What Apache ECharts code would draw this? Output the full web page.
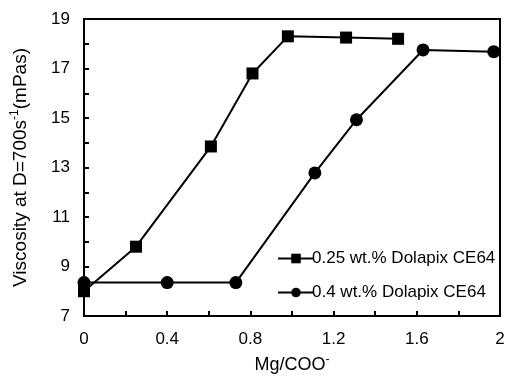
<!DOCTYPE html>
<html>
<head>
<meta charset="utf-8">
<script src="https://cdn.jsdelivr.net/npm/echarts@6/dist/echarts.min.js"></script>
<style>
  html, body { margin: 0; padding: 0; background: #fff; }
  #chart { width: 511px; height: 380px; }
</style>
</head>
<body>
<div id="chart"></div>
<script>
// 0.25 wt.% Dolapix CE64
const ratioA = [0, 0.25, 0.61, 0.81, 0.98, 1.26, 1.51]
const viscA = [8.0, 9.8, 13.85, 16.8, 18.3, 18.25, 18.2]

// 0.4 wt.% Dolapix CE64
const ratioB = [0, 0.4, 0.73, 1.11, 1.31, 1.63, 1.97]
const viscB = [8.35, 8.35, 8.35, 12.78, 14.93, 17.75, 17.68]

const seriesNames = ['0.25 wt.% Dolapix CE64', '0.4 wt.% Dolapix CE64']

const font = 'Liberation Sans, Arial, sans-serif'

const chart = echarts.init(document.getElementById('chart'))

const option = {
  backgroundColor: '#fff',
  animation: false,
  textStyle: { fontFamily: font, color: '#000' },
  grid: {
    left: 84, top: 19, right: 11, bottom: 64,
    show: true, borderColor: '#000', borderWidth: 2
  },
  legend: {
    orient: 'vertical',
    left: 272,
    top: 245,
    itemWidth: 36,
    itemHeight: 12,
    itemGap: 17,
    data: seriesNames,
    textStyle: { fontFamily: font, fontSize: 17, color: '#000', padding: [0, 0, 0, -7] }
  },
  xAxis: {
    type: 'value',
    min: 0, max: 2, interval: 0.2,
    name: '{n|Mg/COO}{s|-}',
    nameLocation: 'middle',
    nameGap: 38,
    nameTextStyle: {
      rich: {
        n: { fontFamily: font, fontSize: 18, color: '#000' },
        s: { fontFamily: font, fontSize: 12, color: '#000', padding: [0, 0, 10, 0] }
      }
    },
    axisLine: { show: true, lineStyle: { color: '#000', width: 2 } },
    axisTick: { inside: true, length: 5, lineStyle: { color: '#000', width: 2 } },
    splitLine: { show: false },
    axisLabel: {
      fontFamily: font, fontSize: 17, color: '#000', margin: 15,
      formatter: (v, i) => (i % 2 === 0 ? String(Math.round(v * 10) / 10) : '')
    }
  },
  yAxis: {
    type: 'value',
    min: 7, max: 19, interval: 1,
    name: '{n|Viscosity at D=700s}{s|-1}{n|(mPas)}',
    nameLocation: 'middle',
    nameGap: 52,
    nameRotate: 90,
    nameTextStyle: {
      rich: {
        n: { fontFamily: font, fontSize: 19, color: '#000' },
        s: { fontFamily: font, fontSize: 12, color: '#000', padding: [0, 0, 11, 0] }
      }
    },
    axisLine: { show: true, lineStyle: { color: '#000', width: 2 } },
    axisTick: { inside: true, length: 5, lineStyle: { color: '#000', width: 2 } },
    splitLine: { show: false },
    axisLabel: {
      fontFamily: font, fontSize: 17, color: '#000', margin: 14,
      formatter: (v) => (v % 2 === 1 ? String(v) : '')
    }
  },
  series: [
    {
      name: seriesNames[0],
      type: 'line',
      symbol: 'rect',
      symbolSize: 12,
      data: ratioA.map((x, i) => [x, viscA[i]]),
      lineStyle: { color: '#000', width: 2 },
      itemStyle: { color: '#000' }
    },
    {
      name: seriesNames[1],
      type: 'line',
      symbol: 'circle',
      symbolSize: 13,
      data: ratioB.map((x, i) => [x, viscB[i]]),
      lineStyle: { color: '#000', width: 2 },
      itemStyle: { color: '#000' }
    }
  ]
}

chart.setOption(option)
</script>
</body>
</html>
